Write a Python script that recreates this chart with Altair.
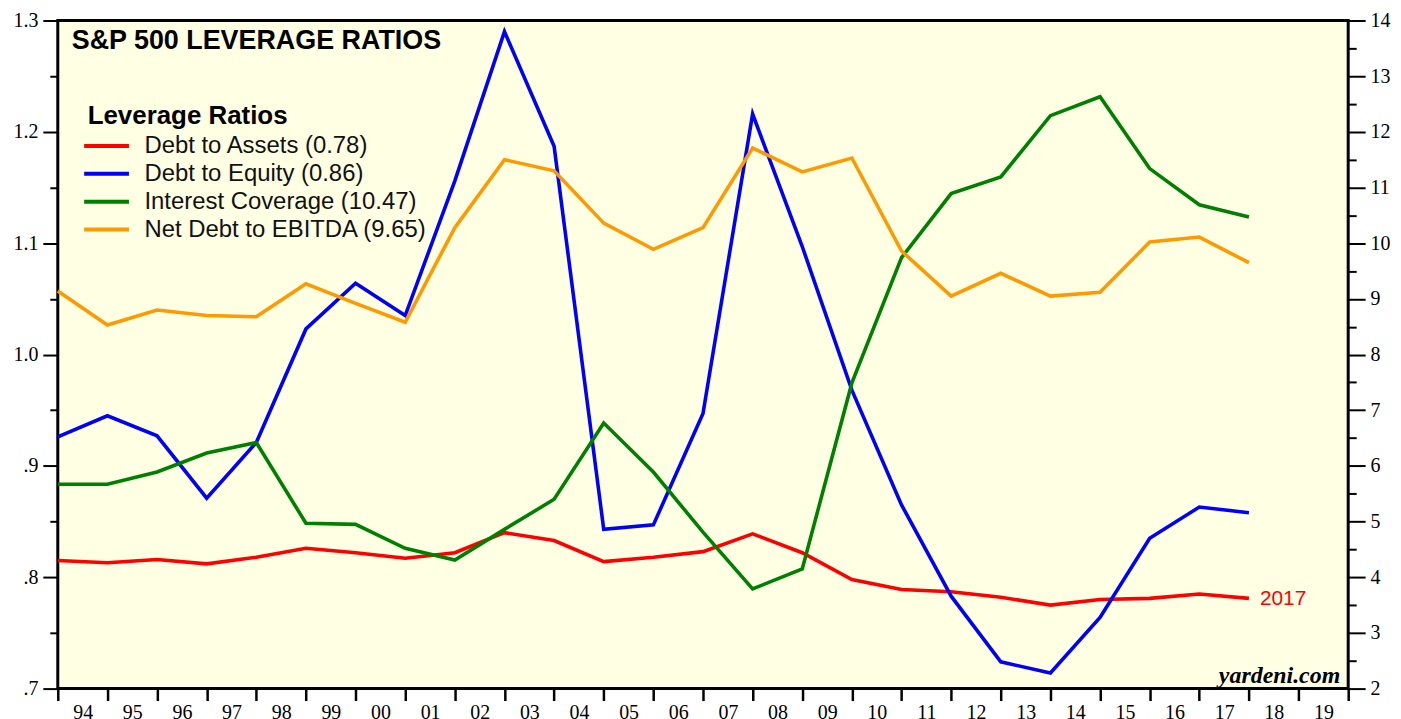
import altair as alt
import pandas as pd

# Year-end observations (1993..2017) plotted at year boundaries
x_years = list(range(1994, 2019))

debt_to_assets = [0.815, 0.813, 0.816, 0.812, 0.818, 0.826, 0.822, 0.817, 0.822, 0.840,
                  0.833, 0.814, 0.818, 0.823, 0.839, 0.822, 0.798, 0.789, 0.787, 0.782,
                  0.775, 0.780, 0.781, 0.785, 0.781]
debt_to_equity = [0.926, 0.945, 0.927, 0.871, 0.921, 1.023, 1.064, 1.035, 1.156, 1.290,
                  1.187, 0.843, 0.847, 0.947, 1.216, 1.097, 0.968, 0.865, 0.783, 0.724,
                  0.714, 0.764, 0.835, 0.863, 0.858]
interest_coverage = [5.67, 5.67, 5.89, 6.23, 6.42, 4.97, 4.95, 4.52, 4.31, 4.86,
                     5.40, 6.77, 5.89, 4.81, 3.79, 4.15, 7.49, 9.74, 10.89, 11.19,
                     12.29, 12.63, 11.34, 10.69, 10.47]
net_debt_to_ebitda = [9.14, 8.53, 8.80, 8.70, 8.68, 9.27, 8.92, 8.58, 10.28, 11.50,
                      11.30, 10.36, 9.89, 10.28, 11.71, 11.28, 11.53, 9.86, 9.05, 9.46,
                      9.05, 9.12, 10.02, 10.11, 9.65]

series_names = ["Debt to Assets (0.78)", "Debt to Equity (0.86)",
                "Interest Coverage (10.47)", "Net Debt to EBITDA (9.65)"]
series_colors = ["#FF0000", "#0000FF", "#008000", "#FF9900"]

x_ticks = list(range(1994, 2021))
left_ticks = [round(0.7 + 0.05 * k, 2) for k in range(13)]
right_ticks = [2 + 0.5 * k for k in range(25)]

left_df = pd.DataFrame({
    "x": x_years * 2,
    "value": debt_to_assets + debt_to_equity,
    "series": [series_names[0]] * len(x_years) + [series_names[1]] * len(x_years),
})
right_df = pd.DataFrame({
    "x": x_years * 2,
    "value": interest_coverage + net_debt_to_ebitda,
    "series": [series_names[2]] * len(x_years) + [series_names[3]] * len(x_years),
})
last_df = pd.DataFrame({"x": [x_years[-1]], "value": [debt_to_assets[-1]], "label": ["2017"]})

serif = "Liberation Serif"
sans = "Liberation Sans"

x_enc = alt.X("x:Q", scale=alt.Scale(domain=[1994, 2020], nice=False, zero=False),
              axis=alt.Axis(values=x_ticks, title=None, grid=False, domain=False,
                            tickSize=12, tickWidth=2.5, tickColor="black",
                            labelOffset=25, labelPadding=2, labelFlush=False,
                            labelOverlap=False, labelAngle=0,
                            labelExpr="datum.value >= 2020 ? '' : substring(toString(datum.value), 2)",
                            labelFont=serif, labelFontSize=20, labelColor="black"))

color_enc = alt.Color("series:N",
                      scale=alt.Scale(domain=series_names, range=series_colors),
                      legend=alt.Legend(orient="none", legendX=30, legendY=83,
                                        title="Leverage Ratios", titleFont=sans,
                                        titleFontSize=26, titleFontWeight="bold",
                                        titleColor="black", titlePadding=5,
                                        titleLimit=600,
                                        labelFont=sans, labelFontSize=24,
                                        labelColor="#111111", labelOffset=33,
                                        symbolType="M-2.07,0H3.93", symbolSize=225,
                                        symbolStrokeWidth=4, rowPadding=4,
                                        labelLimit=600))

left_y = alt.Y("value:Q", scale=alt.Scale(domain=[0.7, 1.3], nice=False, zero=False),
               axis=alt.Axis(orient="left", values=left_ticks, title=None, grid=False,
                             domain=False, tickWidth=2, tickColor="black",
                             tickSize={"condition": {"test": "abs(datum.value*10 - round(datum.value*10)) < 0.01", "value": 15}, "value": 8},
                             labelPadding=5, labelOverlap=False, labelFlush=False,
                             labelExpr="abs(datum.value*10 - round(datum.value*10)) > 0.01 ? '' : (datum.value < 1 ? replace(format(datum.value, '.1f'), '0.', '.') : format(datum.value, '.1f'))",
                             labelFont=serif, labelFontSize=20, labelColor="black"))

right_y = alt.Y("value:Q", scale=alt.Scale(domain=[2, 14], nice=False, zero=False),
                axis=alt.Axis(orient="right", values=right_ticks, title=None, grid=False,
                              domain=False, tickWidth=2, tickColor="black",
                              tickSize={"condition": {"test": "datum.value % 1 == 0", "value": 17}, "value": 8},
                              labelPadding=5, labelOverlap=False, labelFlush=False,
                              labelExpr="datum.value % 1 != 0 ? '' : format(datum.value, 'd')",
                              labelFont=serif, labelFontSize=20, labelColor="black"))

left_lines = alt.Chart(left_df).mark_line(strokeWidth=3.6).encode(
    x=x_enc, y=left_y, color=color_enc, detail="series:N")
label_2017 = alt.Chart(last_df).mark_text(align="left", baseline="middle", dx=11, dy=1,
                                          font=sans, fontSize=21, color="#FF0000").encode(
    x=alt.X("x:Q"), y=alt.Y("value:Q"), text="label:N")
left_layer = alt.layer(left_lines, label_2017)

right_lines = alt.Chart(right_df).mark_line(strokeWidth=3.6).encode(
    x=x_enc, y=right_y, color=color_enc, detail="series:N")

title_text = alt.Chart(pd.DataFrame({"t": ["S&P 500 LEVERAGE RATIOS"]})).mark_text(
    align="left", baseline="middle", font=sans, fontSize=27, fontWeight="bold", color="black"
).encode(x=alt.value(14), y=alt.value(21), text="t:N")

source_text = alt.Chart(pd.DataFrame({"t": ["yardeni.com"]})).mark_text(
    align="right", baseline="alphabetic", font=serif, fontSize=24, fontWeight="bold",
    fontStyle="italic", color="black"
).encode(x=alt.value(1288), y=alt.value(665), text="t:N")

chart = alt.layer(left_layer, right_lines, title_text, source_text).resolve_scale(
    y="independent"
).properties(
    width=1296, height=671,
    padding={"left": 50, "top": 11, "right": 45, "bottom": 30},
    autosize=alt.AutoSizeParams(type="none"),
    background="white",
).configure_view(
    fill="#FFFFE3", stroke="black", strokeWidth=3
)

chart.save("out.html", embed_options={"renderer": "svg", "actions": False})
